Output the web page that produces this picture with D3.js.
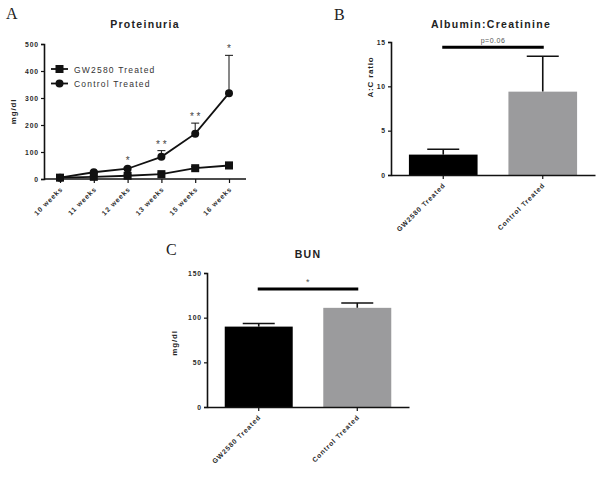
<!DOCTYPE html>
<html>
<head>
<meta charset="utf-8">
<script src="https://cdn.jsdelivr.net/npm/d3@7"></script>
<style>
  body { margin: 0; background: #fff; }
  svg text { font-family: "Liberation Sans", Arial, sans-serif; }
  .tick text { font-size: 6.8px; font-weight: bold; fill: #2a2a2a; letter-spacing: 0.9px; }
  .panel { font-family: "Liberation Serif", "Times New Roman", serif !important; font-size: 16px; fill: #222; }
  .title { font-size: 10.5px; font-weight: bold; letter-spacing: 1.3px; fill: #222; }
  .ylab { font-size: 8px; font-weight: bold; letter-spacing: 0.8px; fill: #222; }
</style>
</head>
<body>
<div id="chart"></div>
<script>
// Panel A: proteinuria over time
const weeks = ["10 weeks", "11 weeks", "12 weeks", "13 weeks", "15 weeks", "16 weeks"];
const gwMean = [5, 8, 12, 18, 40, 50];
const gwErr = [2, 3, 3, 4, 6, 12];
const ctrlMean = [5, 25, 38, 82, 168, 318];
const ctrlErr = [2, 4, 5, 23, 39, 140];
const stars = ["", "", "*", "* *", "* *", "*"];
const proteinTicks = [0, 100, 200, 300, 400, 500];

// Panel B: albumin:creatinine
const groups = ["GW2580 Treated", "Control Treated"];
const acMean = [2.3, 9.4];
const acErr = [0.6, 4.0];
const acTicks = [0, 5, 10, 15];

// Panel C: BUN
const bunMean = [90, 111];
const bunErr = [3.5, 5.5];
const bunTicks = [0, 50, 100, 150];

const barColors = ["#000000", "#9b9b9d"];

const svg = d3.select("#chart").append("svg")
  .attr("width", 601)
  .attr("height", 485);

function xLabels(g) {
  g.selectAll(".tick text")
    .attr("text-anchor", "end")
    .attr("transform", "translate(1,9) rotate(-45)")
    .attr("dy", "0.35em")
    .attr("x", 0).attr("y", 0)
    .attr("letter-spacing", 1.1);
}

function styleAxis(g) {
  g.select(".domain").attr("stroke", "#111").attr("stroke-width", 1.6);
  g.selectAll(".tick line").attr("stroke", "#111").attr("stroke-width", 1.2);
}

// ---------- Panel A ----------
{
  const left = 44, right = 246, top = 44, bottom = 179;
  const x = d3.scalePoint().domain(weeks).range([60, 229]);
  const y = d3.scaleLinear().domain([0, 500]).range([bottom, top]);

  svg.append("text").attr("class", "panel").attr("x", 6).attr("y", 19).text("A");
  svg.append("text").attr("class", "title").attr("x", 145).attr("y", 28)
    .attr("text-anchor", "middle").text("Proteinuria");
  svg.append("text").attr("class", "ylab")
    .attr("transform", "translate(16," + (top + bottom) / 2 + ") rotate(-90)")
    .attr("text-anchor", "middle").text("mg/dl");

  const yAx = svg.append("g").attr("transform", "translate(" + left + ",0)")
    .call(d3.axisLeft(y).tickValues(proteinTicks).tickSize(3).tickPadding(2));
  styleAxis(yAx);

  const xAx = svg.append("g").attr("transform", "translate(0," + bottom + ")")
    .call(d3.axisBottom(x).tickSize(4).tickSizeOuter(0));
  xAx.select(".domain").attr("d", "M" + left + ",0H" + right);
  styleAxis(xAx);
  xLabels(xAx);

  const line = d3.line().x((d, i) => x(weeks[i])).y(d => y(d));

  // error bars (upper only)
  const series = [[gwMean, gwErr], [ctrlMean, ctrlErr]];
  series.forEach(([m, e]) => {
    const eb = svg.append("g").attr("stroke", "#111").attr("stroke-width", 1);
    m.forEach((v, i) => {
      eb.append("line").attr("x1", x(weeks[i])).attr("x2", x(weeks[i]))
        .attr("y1", y(v)).attr("y2", y(v + e[i]));
      eb.append("line").attr("x1", x(weeks[i]) - 4).attr("x2", x(weeks[i]) + 4)
        .attr("y1", y(v + e[i])).attr("y2", y(v + e[i]));
    });
  });

  svg.append("path").datum(gwMean).attr("d", line)
    .attr("fill", "none").attr("stroke", "#111").attr("stroke-width", 1.8);
  svg.append("path").datum(ctrlMean).attr("d", line)
    .attr("fill", "none").attr("stroke", "#111").attr("stroke-width", 1.8);

  svg.append("g").selectAll("rect").data(gwMean).join("rect")
    .attr("x", (d, i) => x(weeks[i]) - 4).attr("y", d => y(d) - 4)
    .attr("width", 8).attr("height", 8).attr("fill", "#111");
  svg.append("g").selectAll("circle").data(ctrlMean).join("circle")
    .attr("cx", (d, i) => x(weeks[i])).attr("cy", d => y(d))
    .attr("r", 4).attr("fill", "#111");

  svg.append("g").selectAll("text").data(stars).join("text")
    .attr("x", (d, i) => x(weeks[i]))
    .attr("y", (d, i) => y(ctrlMean[i] + ctrlErr[i]) - 3)
    .attr("text-anchor", "middle")
    .attr("font-size", 10).attr("fill", "#444")
    .text(d => d);

  // legend
  const lg = svg.append("g");
  [["GW2580 Treated", "square"], ["Control Treated", "circle"]].forEach((d, i) => {
    const ly = 69 + i * 14.5;
    lg.append("line").attr("x1", 51).attr("x2", 68).attr("y1", ly).attr("y2", ly)
      .attr("stroke", "#111").attr("stroke-width", 1.8);
    if (d[1] === "square") {
      lg.append("rect").attr("x", 55.5).attr("y", ly - 4).attr("width", 8).attr("height", 8).attr("fill", "#111");
    } else {
      lg.append("circle").attr("cx", 59.5).attr("cy", ly).attr("r", 4).attr("fill", "#111");
    }
    lg.append("text").attr("x", 74).attr("y", ly + 3.5)
      .attr("font-size", 8.5).attr("letter-spacing", 1.2).attr("fill", "#333").text(d[0]);
  });
}

// ---------- Bar panels ----------
function barPanel(o) {
  const x = d3.scaleBand().domain(groups).range([o.x0, o.x1]).paddingInner(0.31).paddingOuter(0.18);
  const y = d3.scaleLinear().domain(o.domain).range([o.bottom, o.top]);

  svg.append("text").attr("class", "panel").attr("x", o.letterX).attr("y", o.letterY).text(o.letter);
  svg.append("text").attr("class", "title").attr("x", o.titleX).attr("y", o.titleY)
    .attr("text-anchor", "middle").attr("letter-spacing", o.titleSpacing).text(o.title);
  svg.append("text").attr("class", "ylab")
    .attr("transform", "translate(" + o.ylabX + "," + o.ylabY + ") rotate(-90)")
    .attr("text-anchor", "middle").text(o.ylab);

  // error bars
  const eb = svg.append("g").attr("stroke", "#111").attr("stroke-width", 1.6);
  o.mean.forEach((v, i) => {
    const cx = x(groups[i]) + x.bandwidth() / 2;
    eb.append("line").attr("x1", cx).attr("x2", cx).attr("y1", y(v)).attr("y2", y(v + o.err[i]));
    eb.append("line").attr("x1", cx - 16).attr("x2", cx + 16)
      .attr("y1", y(v + o.err[i])).attr("y2", y(v + o.err[i]));
  });

  svg.append("g").selectAll("rect").data(o.mean).join("rect")
    .attr("x", (d, i) => x(groups[i]))
    .attr("y", d => y(d))
    .attr("width", x.bandwidth())
    .attr("height", d => o.bottom - y(d))
    .attr("fill", (d, i) => barColors[i]);

  const yAx = svg.append("g").attr("transform", "translate(" + o.x0 + ",0)")
    .call(d3.axisLeft(y).tickValues(o.ticks).tickSize(3).tickPadding(2));
  styleAxis(yAx);
  const xAx = svg.append("g").attr("transform", "translate(0," + o.bottom + ")")
    .call(d3.axisBottom(x).tickSize(4).tickSizeOuter(0));
  styleAxis(xAx);
  xLabels(xAx);

  // significance bar
  const c0 = x(groups[0]) + x.bandwidth() / 2, c1 = x(groups[1]) + x.bandwidth() / 2;
  svg.append("line").attr("x1", c0 - 1).attr("x2", c1 + 1)
    .attr("y1", y(o.sigAt)).attr("y2", y(o.sigAt))
    .attr("stroke", "#000").attr("stroke-width", 3);
  svg.append("text").attr("x", (c0 + c1) / 2).attr("y", y(o.sigAt) - 4)
    .attr("text-anchor", "middle").attr("font-size", o.sigSize).attr("fill", "#555")
    .attr("letter-spacing", 0.5).text(o.sig);
}

barPanel({
  letter: "B", letterX: 334, letterY: 20,
  title: "Albumin:Creatinine", titleX: 491, titleY: 28, titleSpacing: 1.9,
  ylab: "A:C ratio", ylabX: 373, ylabY: 77,
  x0: 391, x1: 595, top: 42, bottom: 175,
  domain: [0, 15], ticks: acTicks,
  mean: acMean, err: acErr,
  sigAt: 14.4, sig: "p=0.06", sigSize: 7
});

barPanel({
  letter: "C", letterX: 166, letterY: 255,
  title: "BUN", titleX: 308, titleY: 258, titleSpacing: 1.5,
  ylab: "mg/dl", ylabX: 177, ylabY: 343,
  x0: 207, x1: 409, top: 273, bottom: 407,
  domain: [0, 150], ticks: bunTicks,
  mean: bunMean, err: bunErr,
  sigAt: 132, sig: "*", sigSize: 9
});
</script>
</body>
</html>
